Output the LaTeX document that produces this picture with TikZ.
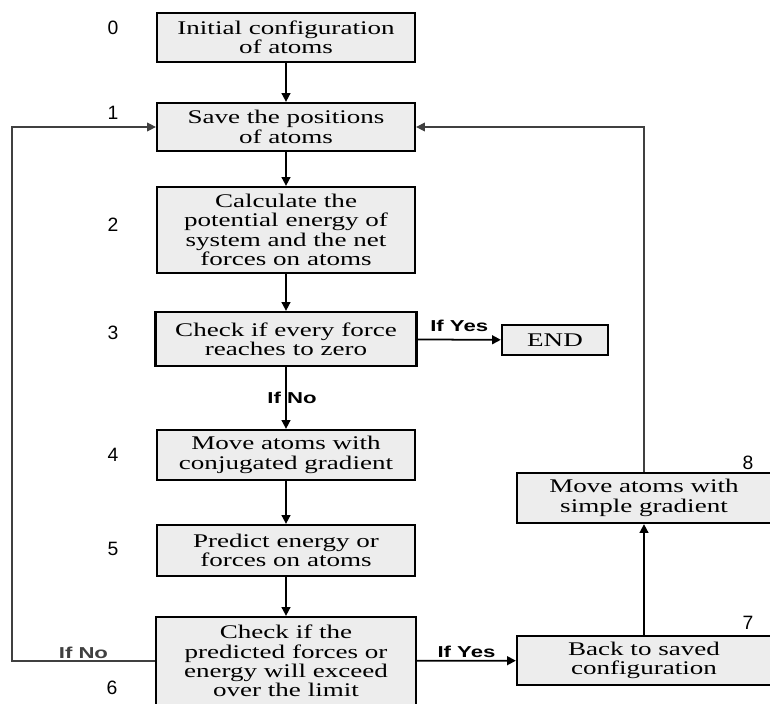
\documentclass[tikz,border=0pt]{standalone}
\usepackage{fontspec}
\setmainfont{Liberation Serif}
\setsansfont{Liberation Sans}
\newfontfamily\wideserif[FakeStretch=1.4]{Liberation Serif}
\newfontfamily\widesans[FakeStretch=1.4]{Liberation Sans}
\usetikzlibrary{arrows.meta}

\begin{document}
\begin{tikzpicture}[x=0.02cm, y=-0.02cm,
  stage/.style={draw=black, line width=1.3pt, fill=gray!14, align=center, inner sep=1pt,
    minimum width=5.16cm, font=\wideserif\fontsize{11}{11}\selectfont},
  flow/.style={-{Triangle[length=5pt,width=5pt]}, line width=1pt},
  back/.style={-{Triangle[length=5pt,width=5pt]}, line width=0.6pt, black!75},
  answer/.style={font=\widesans\bfseries\fontsize{9}{9}\selectfont, inner sep=1pt},
  stepno/.style={font=\sffamily\fontsize{11}{11}\selectfont}]
\useasboundingbox (0,0) rectangle (770,703);
% main column
\node[stage, minimum height=0.98cm] (b0) at (286,37.5) {Initial configuration\\of atoms};
\node[stage, minimum height=0.96cm] (b1) at (286,127) {Save the positions\\of atoms};
\node[stage, minimum height=1.72cm] (b2) at (286,230) {Calculate the\\potential energy of\\system and the net\\forces on atoms};
\node[stage, minimum height=1.08cm, minimum width=5.22cm] (b3) at (286,339) {Check if every force\\reaches to zero};
\node[stage, minimum height=0.6cm, minimum width=2.12cm] (end) at (555,340) {END};
\node[stage, minimum height=1.0cm] (b4) at (286,455) {Move atoms with\\conjugated gradient};
\node[stage, minimum height=1.02cm] (b5) at (286,550.5) {Predict energy or\\forces on atoms};
\node[stage, minimum height=1.76cm, minimum width=5.2cm] (b6) at (286,661) {Check if the\\predicted forces or\\energy will exceed\\over the limit};
% right column
\node[stage, minimum height=1.0cm, minimum width=5.08cm] (b8) at (644,498) {Move atoms with\\simple gradient};
\node[stage, minimum height=0.98cm, minimum width=5.08cm] (b7) at (644,660.5) {Back to saved\\configuration};
% step numbers
\node[stepno] (n0) at (113,28) {0};
\node[stepno] (n1) at (113,113) {1};
\node[stepno] (n2) at (113,225) {2};
\node[stepno] (n3) at (113,333) {3};
\node[stepno] (n4) at (113,455) {4};
\node[stepno] (n5) at (113,549) {5};
\node[stepno] (n6) at (112,688) {6};
\node[stepno] (n7) at (748,623) {7};
\node[stepno] (n8) at (748,463) {8};
\coordinate (loopL) at (12,661);
% connectors
\draw[flow] (b0) -- (b1);
\draw[flow] (b1) -- (b2);
\draw[flow] (b2) -- (b3);
\draw[flow] (b3) -- node[answer, above, yshift=0.1cm] (yes3) {If Yes} (end);
\draw[flow] (b3) -- node[answer, xshift=0.12cm] (no3) {If No} (b4);
\draw[flow] (b4) -- (b5);
\draw[flow] (b5) -- (b6);
\draw[flow] (b6) -- node[answer, above] (yes6) {If Yes} (b7);
\draw[flow] (b7) -- (b8);
\draw[back] (b8.north) |- (b1.east);
\draw[back] (b6.west) -- node[answer, above] (no6) {If No} (loopL) |- (b1.west);
\end{tikzpicture}
\end{document}
